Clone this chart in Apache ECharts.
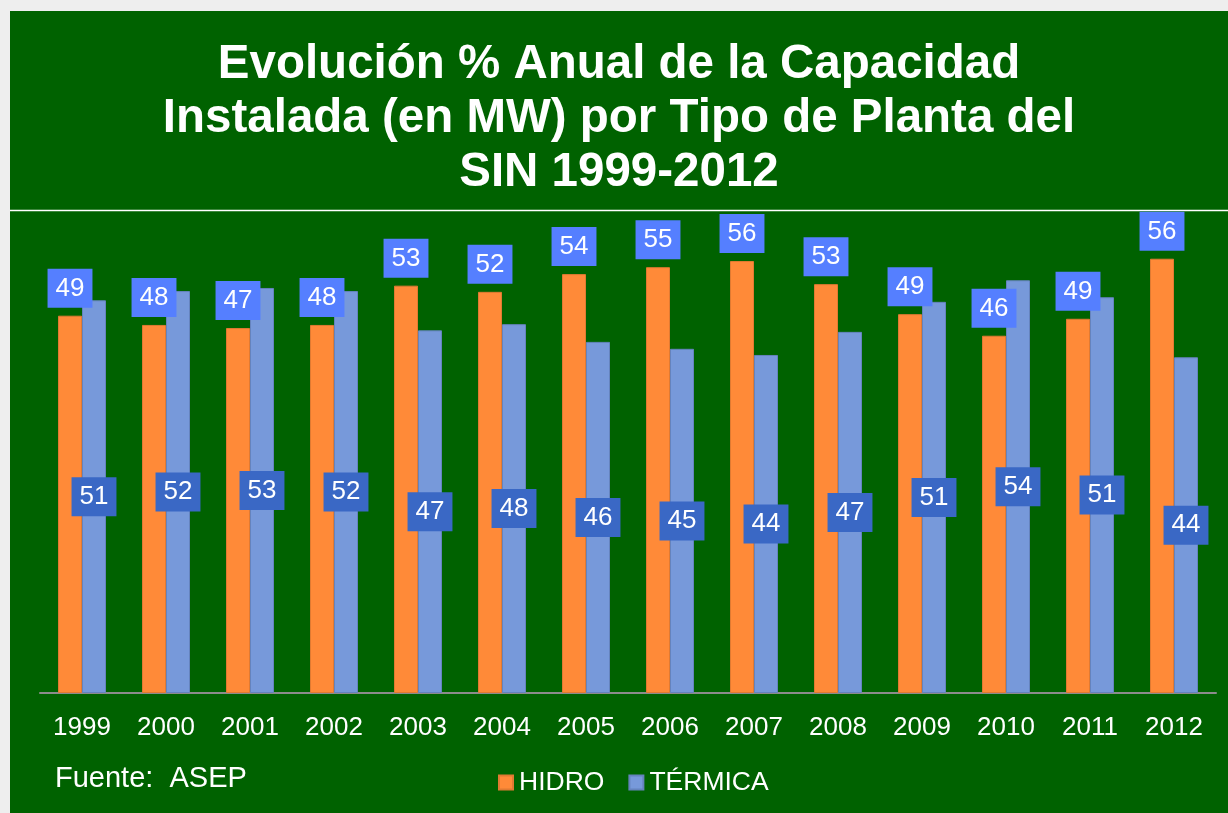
<!DOCTYPE html>
<html>
<head>
<meta charset="utf-8">
<script src="https://cdn.jsdelivr.net/npm/echarts@6/dist/echarts.min.js"></script>
<style>
  html, body { margin: 0; padding: 0; background: #eeeeee; }
  #chart { position: absolute; left: 10px; top: 11px; width: 1218px; height: 802px; }
</style>
</head>
<body>
<div id="chart"></div>
<script>
// años
var years = ['1999', '2000', '2001', '2002', '2003', '2004', '2005', '2006', '2007', '2008', '2009', '2010', '2011', '2012'];
// % de capacidad instalada
var hidro = [49.0, 47.8, 47.4, 47.8, 52.9, 52.1, 54.4, 55.3, 56.1, 53.1, 49.2, 46.4, 48.6, 56.4];
var termica = [51.0, 52.2, 52.6, 52.2, 47.1, 47.9, 45.6, 44.7, 43.9, 46.9, 50.8, 53.6, 51.4, 43.6];

var font = 'Liberation Sans, Arial, sans-serif';
var chart = echarts.init(document.getElementById('chart'));

chart.setOption({
  backgroundColor: '#006200',
  animation: false,
  title: {
    text: 'Evolución % Anual de la Capacidad\nInstalada (en MW) por Tipo de Planta del\nSIN 1999-2012',
    left: 604,
    top: 22,
    textAlign: 'center',
    textStyle: {
      color: '#fff',
      fontFamily: font,
      fontWeight: 'bold',
      fontSize: 47.5,
      lineHeight: 54
    }
  },
  graphic: [
    {
      type: 'line',
      shape: { x1: 0, y1: 199.5, x2: 1218, y2: 199.5 },
      style: { stroke: '#ffffff', lineWidth: 1.5 }
    },
    {
      type: 'text',
      left: 45,
      top: 753,
      style: { text: 'Fuente:  ASEP', fill: '#fff', font: '29px ' + font }
    }
  ],
  legend: {
    left: 483,
    top: 753,
    itemWidth: 14,
    itemHeight: 14,
    itemGap: 24,
    icon: 'rect',
    textStyle: { color: '#fff', fontSize: 26.5, fontFamily: font, padding: [0, 0, 0, 1] },
    data: ['HIDRO', 'TÉRMICA']
  },
  grid: {
    left: 30,
    right: 12,
    top: 220,
    bottom: 120,
    containLabel: false
  },
  xAxis: {
    type: 'category',
    data: years,
    axisTick: { show: false },
    axisLine: { lineStyle: { color: '#8c8c8c', width: 2 } },
    axisLabel: { color: '#fff', fontSize: 26, fontFamily: font, margin: 22 }
  },
  yAxis: {
    type: 'value',
    min: 0,
    max: 60,
    show: false,
    splitLine: { show: false }
  },
  series: [
    {
      name: 'HIDRO',
      type: 'bar',
      data: hidro,
      barWidth: 24,
      barGap: '0%',
      itemStyle: { color: '#ff8a38', borderColor: '#e07a32', borderWidth: 1 },
      label: {
        show: true,
        position: 'top',
        distance: 8,
        formatter: function (p) { return Math.round(p.value); },
        color: '#fff',
        fontSize: 26,
        fontFamily: font,
        backgroundColor: '#557fff',
        padding: [7, 8, 6, 8]
      }
    },
    {
      name: 'TÉRMICA',
      type: 'bar',
      data: termica,
      barWidth: 24,
      itemStyle: { color: '#7799da', borderColor: '#6583bd', borderWidth: 1 },
      label: {
        show: true,
        position: 'inside',
        formatter: function (p) { return Math.round(p.value); },
        color: '#fff',
        fontSize: 26,
        fontFamily: font,
        backgroundColor: '#3a68c5',
        padding: [7, 8, 6, 8]
      }
    }
  ]
});
</script>
</body>
</html>
